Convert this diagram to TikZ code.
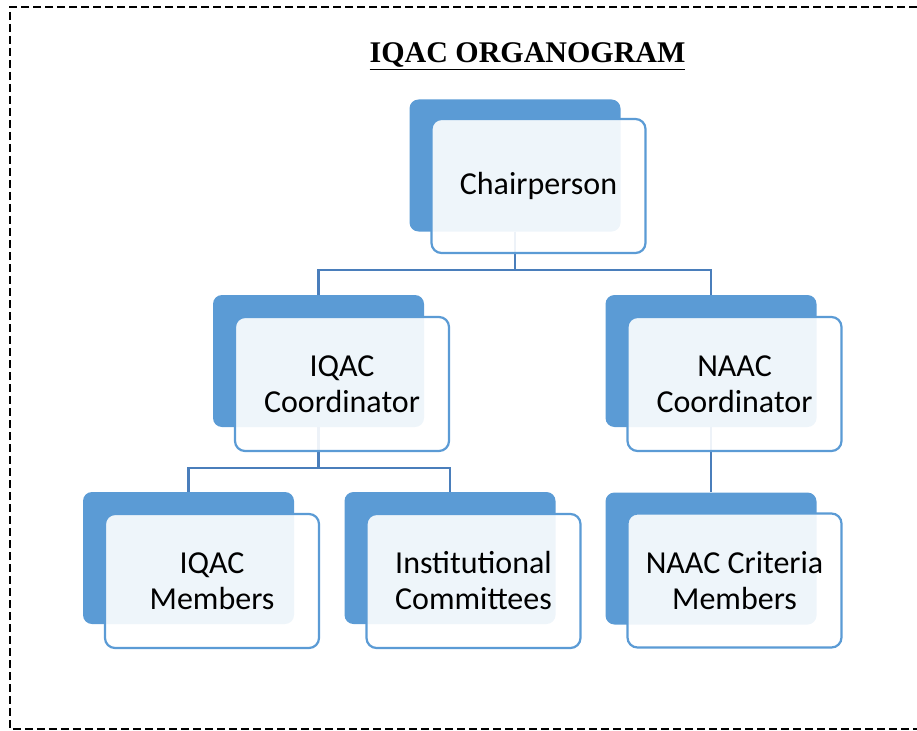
\documentclass[tikz,border=0pt]{standalone}
\usepackage{fontspec}
\setmainfont{Carlito}
\newfontfamily\titlefont{Liberation Serif}
\usetikzlibrary{positioning}
\definecolor{boxblue}{HTML}{5B9BD5}
\definecolor{linkblue}{HTML}{4A7EBB}
\tikzset{
  backbox/.style={fill=boxblue, rounded corners=9pt, minimum width=211pt,
    minimum height=132pt, inner sep=0pt},
  frontbox/.style={draw=boxblue, line width=2.2pt, fill=white, fill opacity=0.9,
    text opacity=1, rounded corners=10pt, minimum width=214pt,
    minimum height=134pt, inner sep=0pt, align=center,
    font=\fontsize{32}{36}\selectfont},
  link/.style={draw=linkblue, line width=2.4pt},
}

\begin{document}
\begin{tikzpicture}[x=1pt,y=-1pt]

    \useasboundingbox (0,0) rectangle (917,730);

    % Dashed frame (right side runs off the page)
    \draw[line width=2pt, dash pattern=on 8pt off 4pt]
        (917,7) -- (10,7) -- (10,729) -- (917,729);

    \node[font=\titlefont\bfseries\fontsize{30}{34}\selectfont] (title) at (527.5,56)
        {\underline{IQAC ORGANOGRAM}};

    %%%%%%%%%%%%%%%%%%
    %%%%% Back boxes %%%%%
    %%%%%%%%%%%%%%%%%%
    \node[backbox] (chairB) at (515,165.5) {};
    \node[backbox] (iqacB) at (318.5,361) {};
    \node[backbox] (naacB) at (711,361) {};
    \node[backbox] (membB) at (188.5,558) {};
    \node[backbox] (instB) at (450,558) {};
    \node[backbox] (critB) at (711,558.5) {};

    %%%%%%%%%%%%%%%%%%
    %%%%% Connectors %%%%%
    %%%%%%%%%%%%%%%%%%
    \coordinate (bus1) at (515,270);
    \coordinate (bus2) at (318.5,468);

    \draw[link] (chairB.south) -- (bus1) -| (iqacB.north);
    \draw[link] (bus1) -| (naacB.north);
    \draw[link] (iqacB.south) -- (bus2) -| (membB.north);
    \draw[link] (bus2) -| (instB.north);
    \draw[link] (naacB.south) -- (critB.north);

    %%%%%%%%%%%%%%%%%%
    %%%%% Front boxes %%%%%
    %%%%%%%%%%%%%%%%%%
    \node[frontbox] (chair) at ([shift={(23.5,20.5)}]chairB.center) {Chairperson};
    \node[frontbox] (iqac) at ([shift={(23.5,23)}]iqacB.center) {IQAC\\Coordinator};
    \node[frontbox] (naac) at ([shift={(23.5,23)}]naacB.center) {NAAC\\Coordinator};
    \node[frontbox] (memb) at ([shift={(23.5,23)}]membB.center) {IQAC\\Members};
    \node[frontbox] (inst) at ([shift={(23.5,23)}]instB.center) {Institutional\\Committees};
    \node[frontbox] (crit) at ([shift={(23.5,22)}]critB.center) {NAAC Criteria\\Members};

\end{tikzpicture}
\end{document}
